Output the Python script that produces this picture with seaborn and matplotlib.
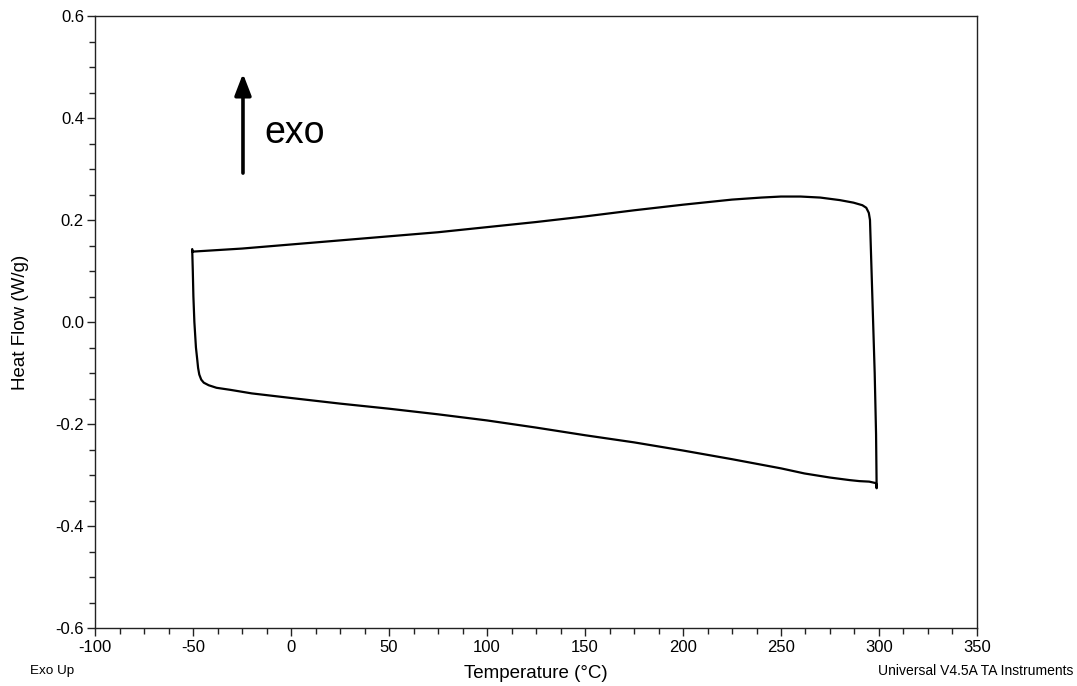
import matplotlib
matplotlib.use("Agg")
import matplotlib.pyplot as plt
import seaborn as sns
import pandas as pd
import numpy as np
from matplotlib.ticker import MultipleLocator

# Upper branch (left -> right)
upper_temp = [-50.4, -50.2, -25, 0, 25, 50, 75, 100, 125, 150, 175, 200, 225, 240, 250, 260,
              270, 280, 287, 291.5, 293.5, 294.8, 295.4]
upper_flow = [0.143, 0.138, 0.144, 0.152, 0.160, 0.168, 0.176, 0.186, 0.196, 0.207, 0.219,
              0.230, 0.240, 0.244, 0.246, 0.246, 0.244, 0.239, 0.234, 0.229, 0.224, 0.214, 0.200]
# Right edge (steep drop)
right_temp = [296.2, 297.0, 297.8, 298.5, 298.8, 298.5]
right_flow = [0.10, 0.0, -0.10, -0.22, -0.326, -0.316]
# Lower branch (right -> left)
lower_temp = [295, 290, 285, 275, 262, 250, 225, 200, 175, 150, 125, 100, 75, 50, 25, 0,
              -20, -31, -38, -42, -44.5, -45.8, -46.8, -47.4, -47.8]
lower_flow = [-0.313, -0.312, -0.310, -0.305, -0.297, -0.287, -0.269, -0.252, -0.236, -0.222,
              -0.207, -0.193, -0.181, -0.170, -0.160, -0.149, -0.140, -0.133, -0.129, -0.124,
              -0.119, -0.113, -0.103, -0.090, -0.075]
# Left edge (steep rise)
left_temp = [-48.5, -49.3, -49.8, -50.1, -50.4]
left_flow = [-0.05, 0.0, 0.05, 0.10, 0.141]

x_ticks = [-100, -50, 0, 50, 100, 150, 200, 250, 300, 350]
y_ticks = [-0.6, -0.4, -0.2, 0.0, 0.2, 0.4, 0.6]

temp = upper_temp + right_temp + lower_temp + left_temp
flow = upper_flow + right_flow + lower_flow + left_flow
df = pd.DataFrame({"Temperature": temp, "HeatFlow": flow})

sns.set_style("ticks")
plt.rcParams["font.family"] = ["Liberation Sans", "DejaVu Sans"]
plt.rcParams["text.color"] = "black"
plt.rcParams["axes.labelcolor"] = "black"
plt.rcParams["xtick.color"] = "black"
plt.rcParams["ytick.color"] = "black"

fig = plt.figure(figsize=(10.77, 6.86), dpi=100)
ax = fig.add_axes([95 / 1077, 58 / 686, 882 / 1077, 612 / 686])

sns.lineplot(data=df, x="Temperature", y="HeatFlow", sort=False, estimator=None,
             color="black", linewidth=1.6, ax=ax)

ax.set_xlim(-100, 350)
ax.set_ylim(-0.6, 0.6)
ax.set_xticks(x_ticks)
ax.set_yticks(y_ticks)
ax.set_xticklabels([str(v) for v in x_ticks])
ax.set_yticklabels([f"{v:.1f}" for v in y_ticks])
ax.xaxis.set_minor_locator(MultipleLocator(12.5))
ax.yaxis.set_minor_locator(MultipleLocator(0.05))
ax.tick_params(axis="both", which="major", direction="out", length=6, width=1,
               labelsize=12, color="#222222", labelcolor="black")
ax.tick_params(axis="x", which="major", pad=3)
ax.tick_params(axis="y", which="major", pad=2)
ax.tick_params(axis="both", which="minor", direction="out", length=4, width=1, color="#222222")
for s in ax.spines.values():
    s.set_linewidth(1)
    s.set_color("#222222")

ax.set_xlabel("Temperature (°C)", fontsize=13.5, color="black")
ax.set_ylabel("Heat Flow (W/g)", fontsize=13.5, color="black")
ax.xaxis.set_label_coords(0.5, (628 - 673) / 612)
ax.xaxis.label.set_va("center")
ax.yaxis.set_label_coords((20 - 95) / 882, 0.5)
ax.yaxis.label.set_va("center")

# exo arrow
ax.annotate("", xy=(-24.5, 0.487), xytext=(-24.5, 0.292),
            arrowprops=dict(arrowstyle="-|>,head_width=0.5,head_length=1.3",
                            color="black", lw=2.6, shrinkA=0, shrinkB=0))
ax.text(-13.5, 0.351, "exo", fontsize=27, ha="left", va="baseline", color="black")

fig.text(30 / 1077, 1 - 671 / 686, "Exo Up", fontsize=9.7, ha="left", va="center",
         color="black")
fig.text(1073 / 1077, 1 - 671 / 686, "Universal V4.5A TA Instruments", fontsize=10,
         ha="right", va="center", color="black")

fig.savefig("out.png", dpi=100)
